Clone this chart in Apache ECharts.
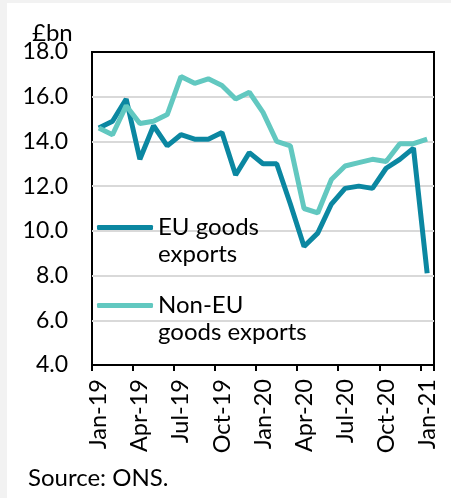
<!DOCTYPE html>
<html>
<head>
<meta charset="utf-8">
<script src="https://cdn.jsdelivr.net/npm/echarts@6/dist/echarts.min.js"></script>
<style>
  html, body { margin: 0; padding: 0; background: #f2f2f2; }
  #chart { position: absolute; left: 7px; top: 3px; width: 444px; height: 495px; background: #ffffff; }
</style>
</head>
<body>
<div id="chart"></div>
<script>
const months = [
  'Jan-19', 'Feb-19', 'Mar-19', 'Apr-19', 'May-19', 'Jun-19', 'Jul-19', 'Aug-19', 'Sep-19', 'Oct-19', 'Nov-19', 'Dec-19',
  'Jan-20', 'Feb-20', 'Mar-20', 'Apr-20', 'May-20', 'Jun-20', 'Jul-20', 'Aug-20', 'Sep-20', 'Oct-20', 'Nov-20', 'Dec-20',
  'Jan-21'
];
const euExports = [14.6, 14.9, 15.9, 13.2, 14.7, 13.8, 14.3, 14.1, 14.1, 14.4, 12.5, 13.5,
  13.0, 13.0, 11.2, 9.3, 9.9, 11.2, 11.9, 12.0, 11.9, 12.8, 13.2, 13.7, 8.1];
const nonEuExports = [14.6, 14.3, 15.6, 14.8, 14.9, 15.2, 16.9, 16.6, 16.8, 16.5, 15.9, 16.2,
  15.3, 14.0, 13.8, 11.0, 10.8, 12.3, 12.9, 13.05, 13.2, 13.1, 13.9, 13.9, 14.1];

const FONT = 'Lato';
const EU_COLOR = '#0b87a1';
const NON_EU_COLOR = '#62c8c0';

const myChart = echarts.init(document.getElementById('chart'));

// leading empty line so the first text line sits level with the legend line
const legendText = {
  fontFamily: FONT,
  fontSize: 24,
  color: '#000',
  lineHeight: 27,
};

const option = {
  animation: false,
  grid: {
    left: 85,
    top: 49,
    width: 342,
    height: 313,
    show: true,
    borderColor: '#000',
    borderWidth: 2,
    containLabel: false,
  },
  xAxis: {
    type: 'category',
    data: months,
    boundaryGap: true,
    axisLine: { show: true, lineStyle: { color: '#000', width: 2 } },
    axisTick: { show: true, interval: 2, length: 6, lineStyle: { color: '#000', width: 2 } },
    axisLabel: {
      interval: 2,
      rotate: 90,
      margin: 14,
      color: '#000',
      fontFamily: FONT,
      fontSize: 23.5,
    },
    splitLine: { show: false },
  },
  yAxis: {
    type: 'value',
    min: 4,
    max: 18,
    interval: 2,
    axisLine: { show: false },
    axisTick: { show: false },
    axisLabel: {
      margin: 24,
      color: '#000',
      fontFamily: FONT,
      fontSize: 23,
      formatter: (v) => v.toFixed(1),
    },
    splitLine: {
      show: true,
      showMinLine: false,
      showMaxLine: false,
      lineStyle: { color: '#d9d9d9', width: 2 },
    },
  },
  legend: [{
    data: ['EU goods exports'],
    orient: 'vertical',
    left: 90,
    top: 184,
    padding: 0,
    icon: 'roundRect',
    itemWidth: 56,
    itemHeight: 5,
    formatter: () => '\nEU goods\nexports',
    textStyle: legendText,
  }, {
    data: ['Non-EU goods exports'],
    orient: 'vertical',
    left: 90,
    top: 262,
    padding: 0,
    icon: 'roundRect',
    itemWidth: 56,
    itemHeight: 5,
    formatter: () => '\nNon-EU\ngoods exports',
    textStyle: legendText,
  }],
  graphic: [{
    type: 'text',
    left: 25,
    top: 18,
    style: { text: '£bn', font: `24px ${FONT}`, fill: '#000' },
  }, {
    type: 'text',
    left: 21,
    top: 463,
    style: { text: 'Source: ONS.', font: `24px ${FONT}`, fill: '#000' },
  }],
  series: [{
    name: 'EU goods exports',
    type: 'line',
    data: euExports,
    showSymbol: false,
    symbol: 'none',
    color: EU_COLOR,
    lineStyle: { color: EU_COLOR, width: 5 },
  }, {
    name: 'Non-EU goods exports',
    type: 'line',
    data: nonEuExports,
    showSymbol: false,
    symbol: 'none',
    color: NON_EU_COLOR,
    lineStyle: { color: NON_EU_COLOR, width: 5 },
  }],
};

myChart.setOption(option);
</script>
</body>
</html>
